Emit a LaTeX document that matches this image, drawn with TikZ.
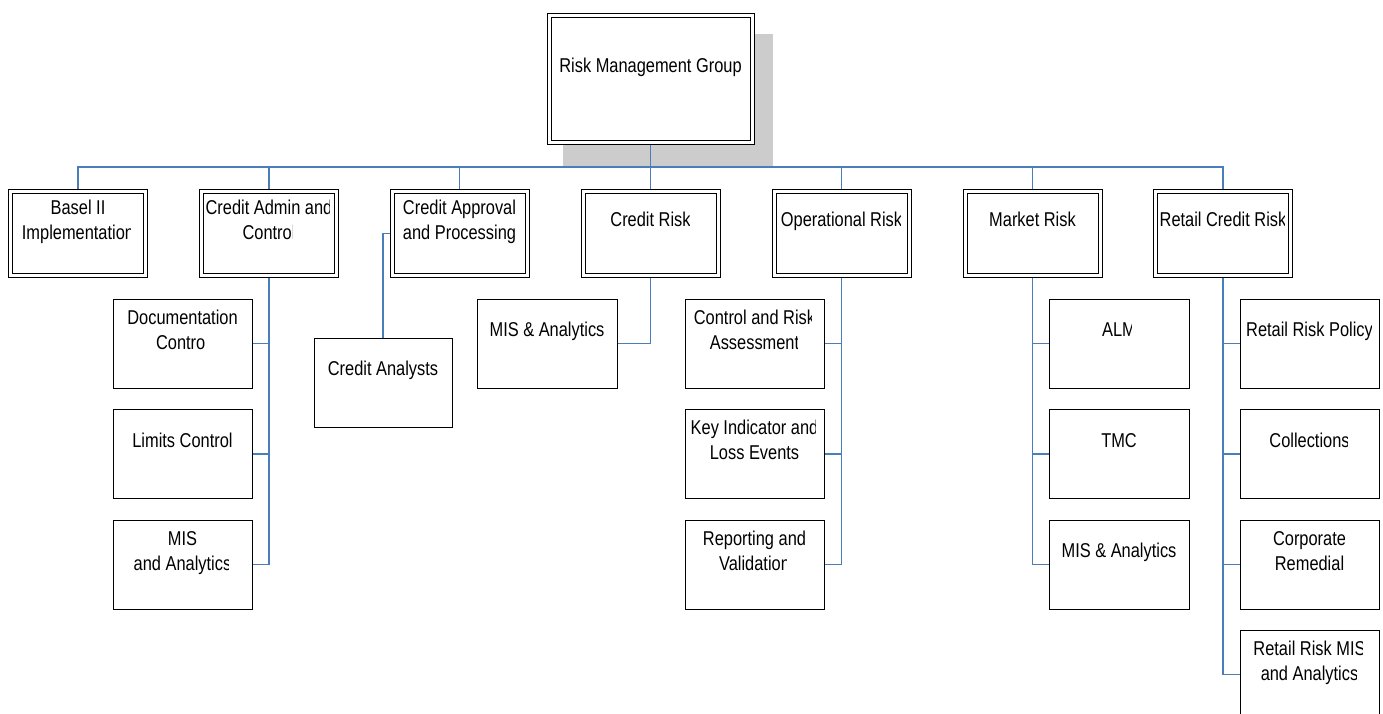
\documentclass[tikz,border=0pt]{standalone}
\usepackage{fontspec}
\setmainfont{Liberation Sans}[FakeStretch=0.82]
\usetikzlibrary{calc}
\pgfdeclarelayer{back}
\pgfdeclarelayer{bg}
\pgfsetlayers{back,bg,main}
\definecolor{conncol}{RGB}{74,126,187}
\definecolor{shadowcol}{RGB}{204,204,204}
% one text line: name, x centre, baseline y, right clip x, text
\newcommand{\tline}[5]{%
  \begin{scope}
    \clip ({#4-320},{#3-40}) rectangle ({#4},{#3+20});
    \node[txt] (#1) at (#2,#3) {#5};
  \end{scope}}
\begin{document}
\begin{tikzpicture}[x=0.75pt,y=-0.75pt,
  font=\fontsize{15}{18.75}\selectfont,
  txt/.style={anchor=base, inner sep=0pt},
  headbox/.style={draw, double, double distance=2.25pt, line width=0.75pt, fill=white,
    inner sep=0pt, minimum width=152.25pt, minimum height=95.25pt},
  deptbox/.style={draw, double, double distance=2.25pt, line width=0.75pt, fill=white,
    inner sep=0pt, minimum width=101.25pt, minimum height=63pt},
  unitbox/.style={draw, line width=0.75pt, fill=white, inner sep=0pt,
    minimum width=104.25pt, minimum height=66.75pt},
  conn/.style={draw=conncol, line width=1pt}]
\useasboundingbox (0,0) rectangle (1383,713);
\begin{pgfonlayer}{back}
  \fill[white] (0,0) rectangle (1383,713);
  \fill[shadowcol] (563,34) rectangle (773,167);
\end{pgfonlayer}

% head
\node[headbox] (rmg) at (650.5,79) {};
\tline{rmgt}{650.5}{73}{800}{Risk Management Group}

% departments
\node[deptbox] (basel)  at (78,233.5) {};
\node[deptbox] (cadmin) at (269,233.5) {};
\node[deptbox] (capp)   at (459.5,233.5) {};
\node[deptbox] (crisk)  at (650.5,233.5) {};
\node[deptbox] (oprisk) at (841.5,233.5) {};
\node[deptbox] (mrisk)  at (1032.5,233.5) {};
\node[deptbox] (rcrisk) at (1223,233.5) {};
\coordinate (bus) at (650.5,167);

\tline{baselA}{78}{214}{200}{Basel II}
\tline{baselB}{78}{239}{130.5}{Implementation}
\tline{cadminA}{269}{214}{329.3}{Credit Admin and}
\tline{cadminB}{269}{239}{292.3}{Control}
\tline{cappA}{459.5}{214}{540}{Credit Approval}
\tline{cappB}{459.5}{239}{540}{and Processing}
\tline{criskA}{650.5}{226.5}{689}{Credit Risk}
\tline{opriskA}{841.5}{226.5}{900}{Operational Risk}
\tline{mriskA}{1032.5}{226.5}{1100}{Market Risk}
\tline{rcriskA}{1223}{226.5}{1284.5}{Retail Credit Risk}

% units
\node[unitbox] (ca1) at (182.5,343.5) {};
\node[unitbox] (ca2) at (182.5,454) {};
\node[unitbox] (ca3) at (182.5,564.5) {};
\node[unitbox, minimum width=103.5pt] (anl) at (383,382.5) {};
\node[unitbox, minimum width=105pt] (crm) at (547,343.5) {};
\node[unitbox] (op1) at (754.5,343.5) {};
\node[unitbox] (op2) at (754.5,454) {};
\node[unitbox] (op3) at (754.5,564.5) {};
\node[unitbox, minimum width=105pt] (mk1) at (1119,343.5) {};
\node[unitbox, minimum width=105pt] (mk2) at (1119,454) {};
\node[unitbox, minimum width=105pt] (mk3) at (1119,564.5) {};
\node[unitbox] (rt1) at (1309.5,343.5) {};
\node[unitbox] (rt2) at (1309.5,454) {};
\node[unitbox] (rt3) at (1309.5,564.5) {};
\node[unitbox] (rt4) at (1309.5,674.5) {};

\tline{ca1A}{182.5}{324}{260}{Documentation}
\tline{ca1B}{182.5}{349}{205.8}{Control}
\tline{ca2A}{182.5}{447}{260}{Limits Control}
\tline{ca3A}{182.5}{545}{260}{MIS}
\tline{ca3B}{182.5}{570}{228.5}{and Analytics}
\tline{anlA}{383}{375.5}{460}{Credit Analysts}
\tline{crmA}{547}{336.5}{625}{MIS \& Analytics}
\tline{op1A}{754.5}{324}{811.5}{Control and Risk}
\tline{op1B}{754.5}{349}{797}{Assessment}
\tline{op2A}{754.5}{434.5}{815.2}{Key Indicator and}
\tline{op2B}{754.5}{459.5}{830}{Loss Events}
\tline{op3A}{754.5}{545}{830}{Reporting and}
\tline{op3B}{754.5}{570}{786.8}{Validation}
\tline{mk1A}{1119}{336.5}{1131.8}{ALM}
\tline{mk2A}{1119}{447}{1195}{TMC}
\tline{mk3A}{1119}{557.5}{1195}{MIS \& Analytics}
\tline{rt1A}{1309.5}{336.5}{1371}{Retail Risk Policy}
\tline{rt2A}{1309.5}{447}{1347.5}{Collections}
\tline{rt3A}{1309.5}{545}{1344}{Corporate}
\tline{rt3B}{1309.5}{570}{1380}{Remedial}
\tline{rt4A}{1309.5}{655}{1362.5}{Retail Risk MIS}
\tline{rt4B}{1309.5}{680}{1356.8}{and Analytics}

% connectors
\begin{pgfonlayer}{bg}
  \draw[conn] (rmg.south) -- (bus);
  \draw[conn] (basel.north) -- (basel.north |- bus) -- (rcrisk.north |- bus) -- (rcrisk.north);
  \foreach \d in {cadmin,capp,crisk,oprisk,mrisk}
    \draw[conn] (\d.north) -- (\d.north |- bus);
  % credit admin
  \draw[conn] (cadmin.south) |- (ca3.east);
  \draw[conn] (ca1.east) -- (ca1.east -| cadmin.south);
  \draw[conn] (ca2.east) -- (ca2.east -| cadmin.south);
  % credit approval
  \draw[conn] (capp.west) -| (anl.north);
  % credit risk
  \draw[conn] (crisk.south) |- (crm.east);
  % operational risk
  \draw[conn] (oprisk.south) |- (op3.east);
  \draw[conn] (op1.east) -- (op1.east -| oprisk.south);
  \draw[conn] (op2.east) -- (op2.east -| oprisk.south);
  % market risk
  \draw[conn] (mrisk.south) |- (mk3.west);
  \draw[conn] (mk1.west) -- (mk1.west -| mrisk.south);
  \draw[conn] (mk2.west) -- (mk2.west -| mrisk.south);
  % retail credit risk
  \draw[conn] (rcrisk.south) |- (rt4.west);
  \draw[conn] (rt1.west) -- (rt1.west -| rcrisk.south);
  \draw[conn] (rt2.west) -- (rt2.west -| rcrisk.south);
  \draw[conn] (rt3.west) -- (rt3.west -| rcrisk.south);
\end{pgfonlayer}
\end{tikzpicture}
\end{document}
